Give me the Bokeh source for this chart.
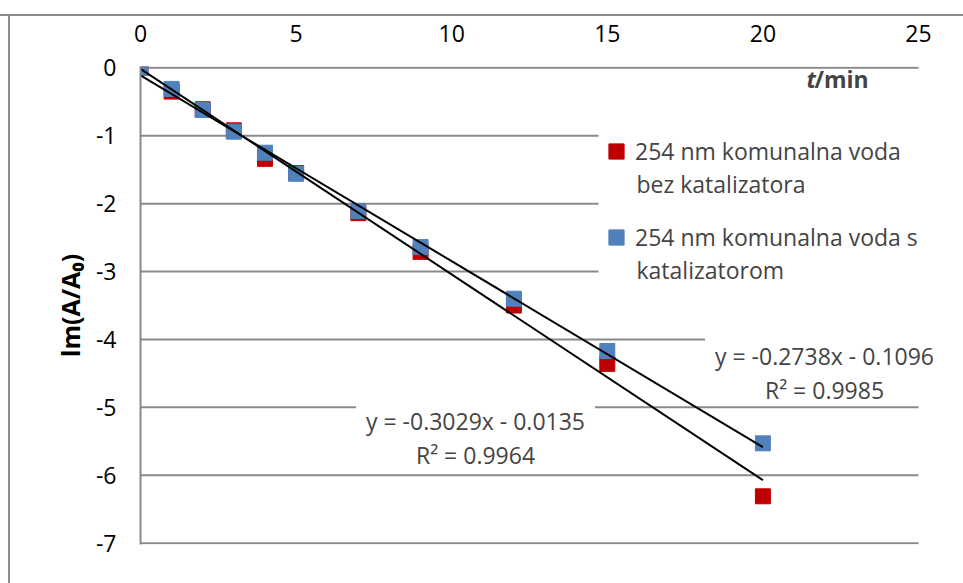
from bokeh.plotting import figure
from bokeh.models import Range1d, FixedTicker, Label, Legend, LegendItem, CustomJSTickFormatter
from bokeh.embed import file_html
from bokeh.resources import INLINE

# ---- data ----
t_min = [0, 1, 2, 3, 4, 5, 7, 9, 12, 15, 20]
red_vals = [0.0, -0.35, -0.61, -0.92, -1.34, -1.55, -2.14, -2.71, -3.50, -4.36, -6.31]
blue_vals = [0.0, -0.31, -0.62, -0.94, -1.25, -1.56, -2.11, -2.64, -3.40, -4.17, -5.53]
series_first_lines = ["254 nm komunalna voda", "254 nm komunalna voda s"]
series_second_lines = ["bez katalizatora", "katalizatorom"]
slopes = [-0.3029, -0.2738]
intercepts = [-0.0135, -0.1096]
r_squared = [0.9964, 0.9985]
x_ticks = [0, 5, 10, 15, 20, 25]
y_ticks = [-7, -6, -5, -4, -3, -2, -1, 0]

FONT = "Open Sans"
GRAY = "#8a8a8a"
RED = "#C00000"
BLUE = "#4F81BD"
FS = "23px"

W, H = 963, 583
FL, FT, FB = 140, 66, 544          # frame edges on page
FR = W                              # frame right edge on page
X0 = 0
PX_PER_X = (918 - 140) / 25.0
X1 = X0 + (FR - FL) / PX_PER_X
Y0, Y1 = -7.02, 0.02


def dx(px):
    return X0 + (px - FL) / PX_PER_X


def dy(py):
    return Y1 - (py - FT) * (Y1 - Y0) / (FB - FT)


p = figure(width=W, height=H, x_range=Range1d(X0, X1), y_range=Range1d(Y0, Y1),
           output_backend="svg", toolbar_location=None, x_axis_location="above",
           min_border_left=FL, min_border_top=FT,
           min_border_right=0, min_border_bottom=H - FB,
           styles={"background": "linear-gradient(#8c8c8c,#8c8c8c) 0 14px / 100% 2px no-repeat, "
                                 "linear-gradient(#8c8c8c,#8c8c8c) 8px 14px / 2px 100% no-repeat"})
p.border_fill_alpha = 0
p.background_fill_color = "white"
p.outline_line_color = None

# axes
p.xaxis.ticker = FixedTicker(ticks=x_ticks)
p.xaxis.axis_line_color = None
p.xaxis.major_tick_line_color = None
p.xaxis.minor_tick_line_color = None
p.xaxis.major_tick_out = 0
p.xaxis.major_tick_in = 0
p.xaxis.major_label_standoff = 25
p.xaxis.major_label_text_font = FONT
p.xaxis.major_label_text_font_size = FS
p.xaxis.major_label_text_color = "black"

p.yaxis.ticker = FixedTicker(ticks=y_ticks)
p.yaxis.formatter = CustomJSTickFormatter(code="return tick.toString();")
p.yaxis.axis_line_color = GRAY
p.yaxis.axis_line_width = 2
p.yaxis.major_tick_line_color = None
p.yaxis.minor_tick_line_color = None
p.yaxis.major_tick_out = 0
p.yaxis.major_tick_in = 0
p.yaxis.major_label_standoff = 24
p.yaxis.major_label_text_font = FONT
p.yaxis.major_label_text_font_size = FS
p.yaxis.major_label_text_color = "black"
p.yaxis.axis_label = "lm(A/A\u2080)"
p.yaxis.axis_label_text_font = FONT
p.yaxis.axis_label_text_font_size = "25px"
p.yaxis.axis_label_text_font_style = "bold"
p.yaxis.axis_label_text_color = "black"
p.yaxis.axis_label_standoff = 6

p.xgrid.grid_line_color = None
p.ygrid.grid_line_color = None

# horizontal gridlines spanning the x tick extent
p.segment(x0=[x_ticks[0]] * len(y_ticks), x1=[x_ticks[-1]] * len(y_ticks),
          y0=y_ticks, y1=y_ticks, line_color=GRAY, line_width=2, level="underlay")

# data
r_red = p.scatter(t_min, red_vals, marker="square", size=15, fill_color=RED, line_color=RED)
r_blue = p.scatter(t_min, blue_vals, marker="square", size=15, fill_color=BLUE, line_color=BLUE)

# trend lines
for m, b in zip(slopes, intercepts):
    xs = [t_min[0], t_min[-1]]
    p.line(xs, [m * x + b for x in xs], color="black", line_width=2)

# second lines of the legend entries (their white boxes also mask the gridlines
# behind the legend area, since the legend itself is drawn transparent on top)
second_line_y = [192, 269]
second_line_pad = [(38, 116, 39, 57), (38, 140, 0, 0)]
for txt, py, pad in zip(series_second_lines, second_line_y, second_line_pad):
    p.add_layout(Label(x=dx(598), y=dy(py), text=txt, text_align="left", text_baseline="middle",
                       text_font=FONT, text_font_size=FS,
                       background_fill_color="white", background_fill_alpha=1,
                       padding=pad))

# legend (first line of each entry)
legend = Legend(items=[LegendItem(label=series_first_lines[0], renderers=[r_red]),
                       LegendItem(label=series_first_lines[1], renderers=[r_blue])],
                location=(457, 288), orientation="vertical")
legend.label_text_font = FONT
legend.label_text_font_size = FS
legend.glyph_width = 38
legend.glyph_height = 38
legend.label_standoff = 0
legend.label_width = 282
legend.spacing = 48
legend.padding = 1
legend.margin = 0
legend.border_line_color = None
legend.background_fill_alpha = 0
p.add_layout(legend)

# trend equations
eq_pos = [(475, 436), (824, 371)]
for (px, py), m, b, r2 in zip(eq_pos, slopes, intercepts, r_squared):
    txt = f"y = {m:.4f}x - {abs(b):.4f}\nR\u00b2 = {r2:.4f}"
    p.add_layout(Label(x=dx(px), y=dy(py), text=txt, text_align="center", text_baseline="middle",
                       text_font=FONT, text_font_size=FS, text_line_height=1.05,
                       background_fill_color="white", padding=(10, 10, 3, 0)))

# x-axis title "t/min"
p.add_layout(Label(x=dx(806), y=dy(78), text="t", text_font=FONT, text_font_size=FS,
                   text_font_style="bold italic", text_baseline="alphabetic", text_align="left"))
p.add_layout(Label(x=dx(814), y=dy(78), text="/min", text_font=FONT, text_font_size=FS,
                   text_font_style="bold", text_baseline="alphabetic", text_align="left"))

open("out.html", "w").write(file_html(p, INLINE))
